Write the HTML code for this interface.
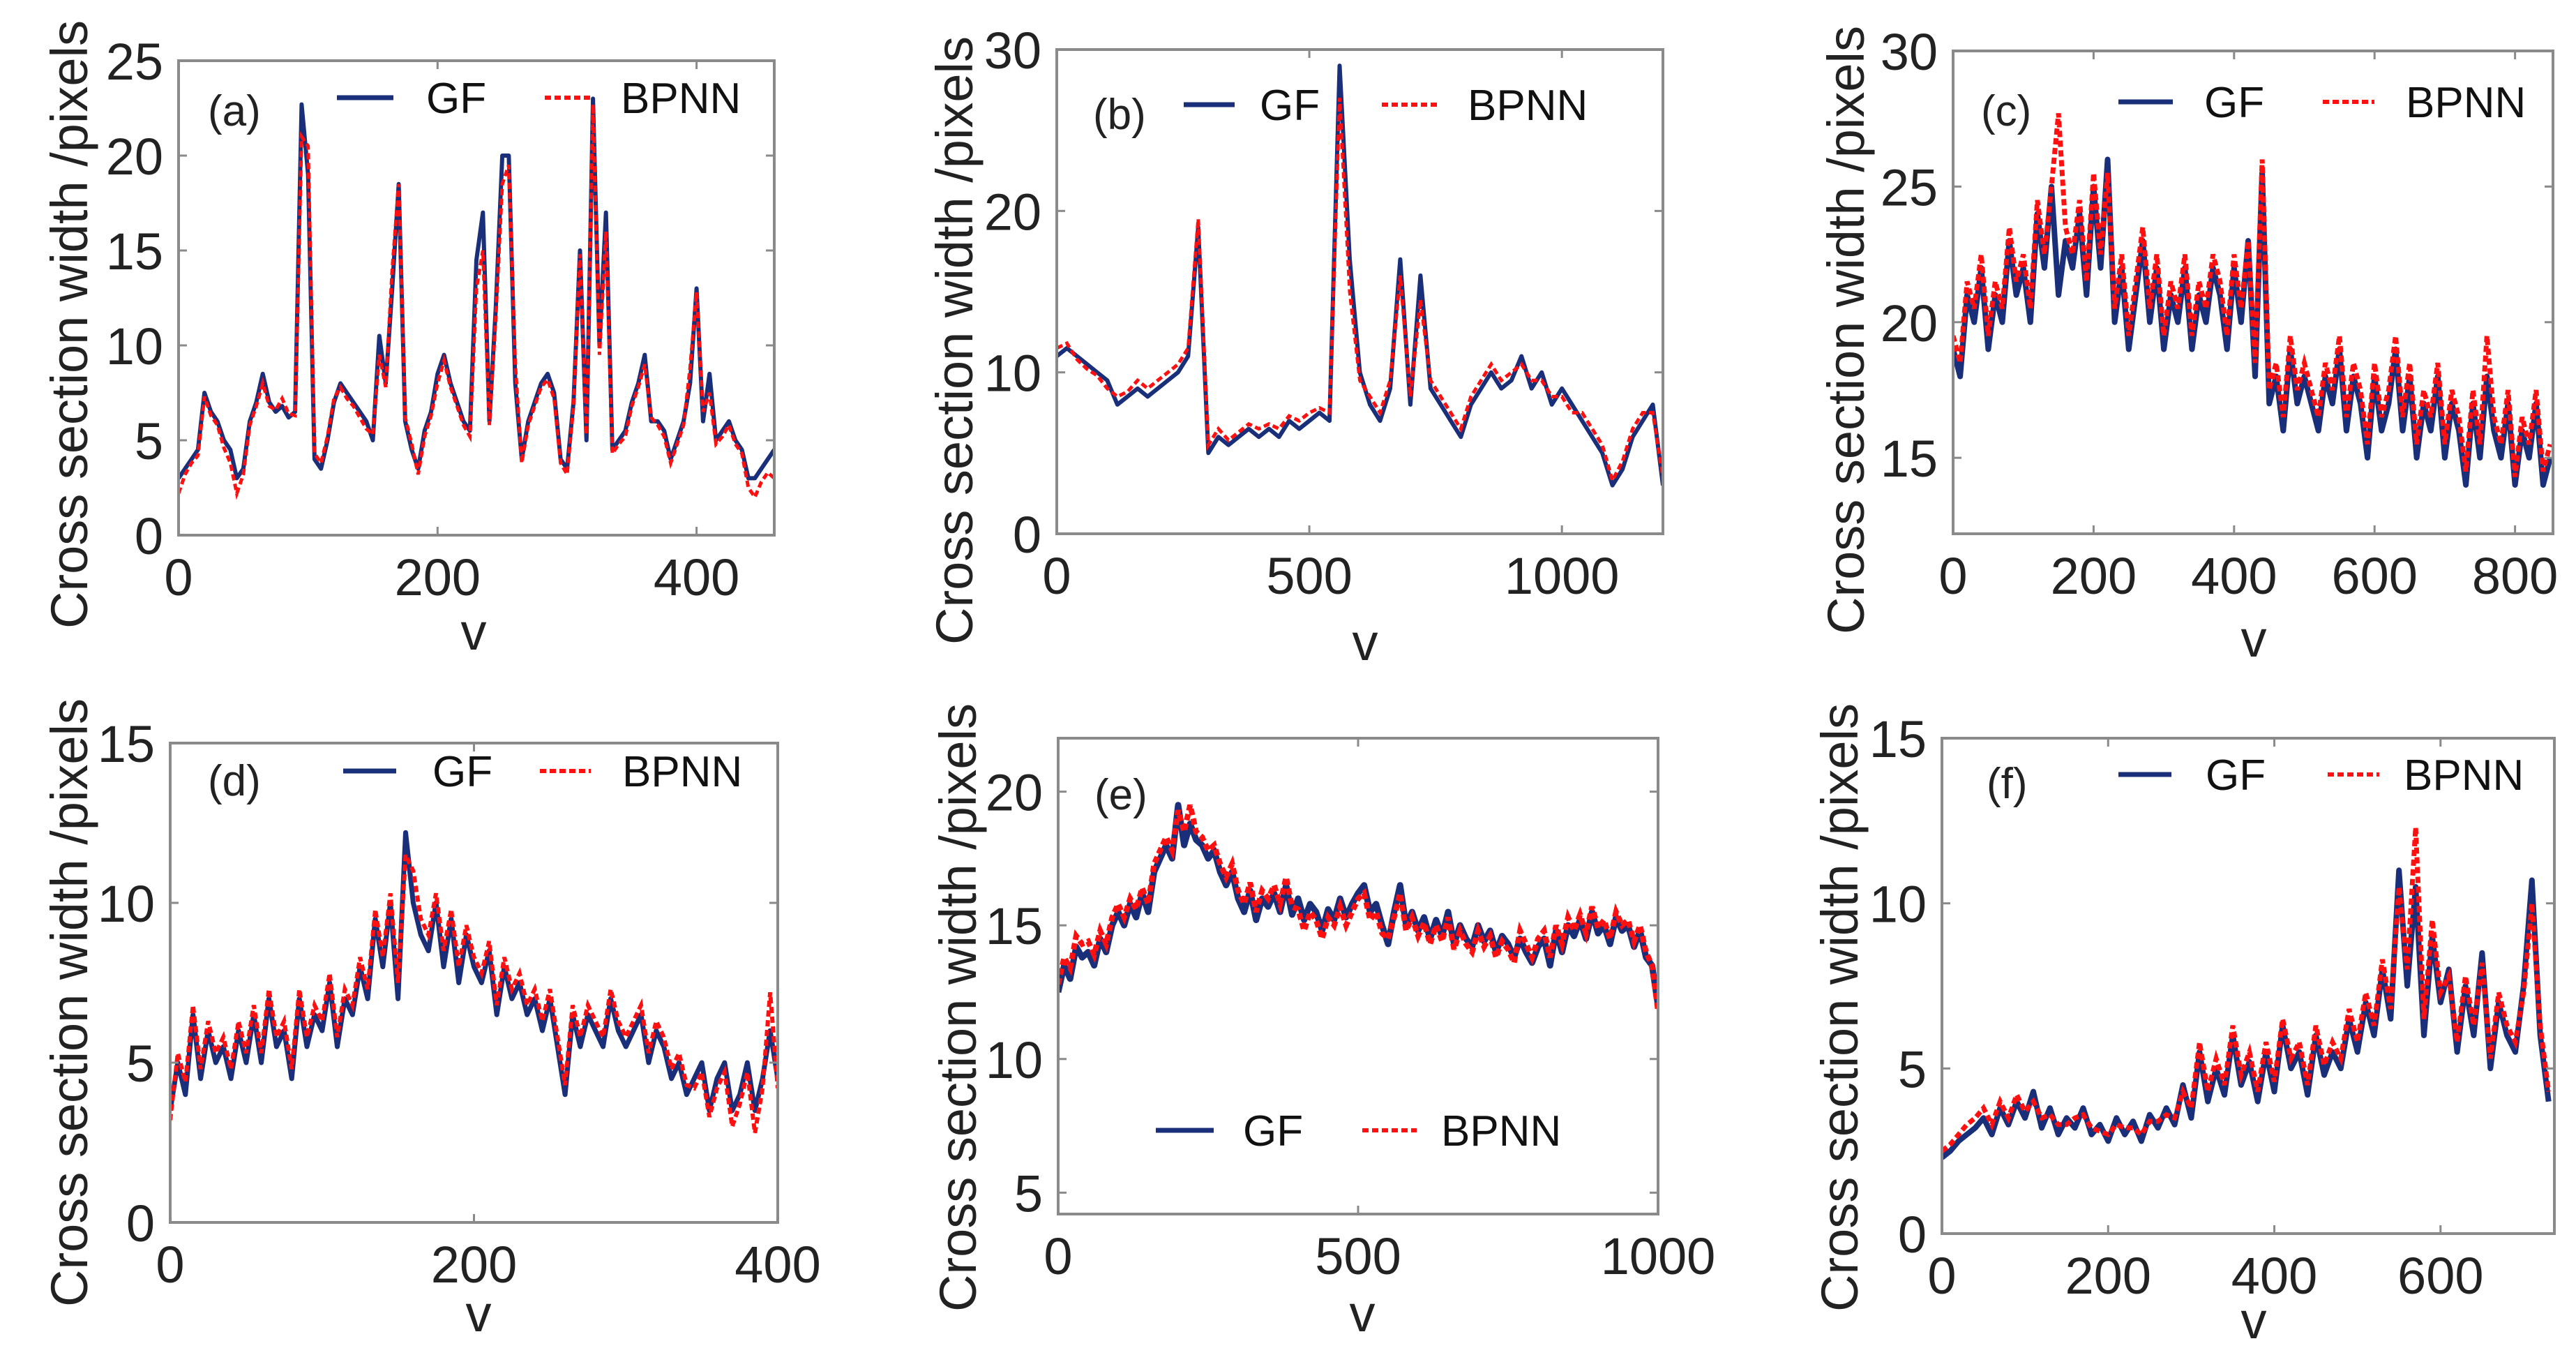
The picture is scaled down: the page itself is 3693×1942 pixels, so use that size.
<!DOCTYPE html>
<html><head><meta charset="utf-8">
<style>
html,body{margin:0;padding:0;background:#fff;}
svg{display:block;font-family:"Liberation Sans",Arial,sans-serif;}
</style></head>
<body>
<svg id="fig" width="3693" height="1942" viewBox="0 0 3693 1942" xmlns="http://www.w3.org/2000/svg"></svg>
<script>
// ---- data ----
const aGF=[3,3.5,4,4.5,7.5,6.5,6,5,4.5,3,3.5,6,7,8.5,7,6.5,6.8,6.2,6.5,22.7,19,4,3.5,5,7,8,7.5,7,6.5,6,5,10.5,8,13,18.5,6,4.5,3.5,5.5,6.5,8.5,9.5,8,7,6,5.5,14.5,17,6,12,20,20,8,4,6,7,8,8.5,7.5,4,3.5,7,15,5,23,10,17,4.5,5,5.5,7,8,9.5,6,6,5.5,4,5,6,8,13,6,8.5,5,5.5,6,5,4.5,3,3,3.5,4,4.5];
const aBP=[2.2,3.2,3.8,4.2,7.3,6.3,5.8,4.6,3.8,2.2,3.2,5.8,6.8,8,6.8,6.6,7.2,6.4,6.3,21,20.5,4.3,3.8,5.2,7.2,7.8,7.2,6.8,6.2,5.6,5.3,9.5,7.8,14,18.5,6.2,4.8,3.2,5.2,6.3,8,9.2,7.8,6.8,5.8,5.2,13,15,5.8,11.5,18.5,19.5,9,3.8,5.8,6.8,7.8,8.2,7.2,3.8,3.2,6.8,14.8,5.3,22.7,9.5,16,4.3,4.8,5.2,6.8,7.8,9,6.2,5.8,5.2,3.8,4.8,5.8,8.8,12.8,6.5,7.5,4.8,5.2,5.8,4.8,4.3,2.5,2,2.8,3.3,3];
const bGF=[11,11.5,11,10.5,10,9.5,8,8.5,9,8.5,9,9.5,10,11,19,5,6,5.5,6,6.5,6,6.5,6,7,6.5,7,7.5,7,29,17,10,8,7,9,17,8,16,9,8,7,6,8,9,10,9,9.5,11,9,10,8,9,8,7,6,5,3,4,6,7,8,3];
const bBP=[11.5,11.8,10.8,10.2,9.8,9,8.5,8.8,9.5,9,9.5,10,10.5,11.5,19.5,5.5,6.5,5.8,6.3,6.8,6.5,6.8,6.5,7.3,7,7.5,7.8,7.5,27,15,9.5,8.5,7.5,9.5,16,8.5,14.5,9.5,8.5,7.5,6.5,8.5,9.5,10.5,9.5,10,10.5,9.5,9.5,8.5,8.5,7.5,7.5,6.5,5.5,3.3,4.5,6.5,7.5,7.5,3.5];
const cGF=[19,18,21,20,22,19,21,20,23,21,22,20,24,22,25,21,23,22,24,21,25,22,26,20,22,19,21,23,20,22,19,21,20,22,19,21,20,22,21,19,22,20,23,18,25.5,17,18,16,19,17,18,17,16,18,17,19,16,18,17,15,18,16,17,19,16,18,15,17,16,18,15,17,16,14,17,15,18,16,15,17,14,16,15,17,14,15];
const cBP=[19.5,18.5,21.5,20.5,22.5,19.5,21.5,20.5,23.5,21.5,22.5,20.5,24.5,22.5,25,27.7,23.5,22.5,24.5,21.5,25.5,22.5,25.5,20.5,22.5,19.5,21.5,23.5,20.5,22.5,19.5,21.5,20.5,22.5,19.5,21.5,20.5,22.5,21.5,19.5,22.5,20.5,23,18.5,26,17.5,18.5,16.5,19.5,17.5,18.5,17.5,16.5,18.5,17.5,19.5,16.5,18.5,17.5,15.5,18.5,16.5,17.5,19.5,16.5,18.5,15.5,17.5,16.5,18.5,15.5,17.5,16.5,14.5,17.5,15.5,19.5,16.5,15.5,17.5,14.3,16.5,15.5,17.5,14.5,15.5];
const dGF=[3.5,5,4,6.5,4.5,6,5,5.5,4.5,6,5,6.5,5,7,5.5,6,4.5,7,5.5,6.5,6,7.5,5.5,7,6.5,8,7,9.5,8,10,7,12.2,10,9,8.5,10,8,9.5,7.5,9,8,7.5,8.5,6.5,8,7,7.5,6.5,7,6,7,5.5,4,6.5,5.5,6.5,6,5.5,7,6,5.5,6,6.5,5,6,5.5,4.5,5,4,4.5,5,3.5,4.5,5,3.5,4,5,3.5,4.5,6,4.5];
const dBP=[3.2,5.3,4.4,6.8,4.8,6.3,5.3,5.8,4.8,6.3,5.3,6.8,5.3,7.3,5.8,6.3,4.8,7.3,5.8,6.8,6.3,7.8,5.8,7.3,6.8,8.3,7.3,9.8,8.3,10.3,7.5,11.5,11,9.5,9,10.3,8.5,9.8,8,9.3,8.3,7.8,8.8,6.8,8.3,7.3,7.8,6.8,7.3,6.3,7.3,5.8,4.3,6.8,5.8,6.8,6.3,5.8,7.3,6.3,5.8,6.3,6.8,5.3,6.3,5.8,4.8,5.3,4.3,4.2,4.7,3.3,4.2,4.7,3,3.7,4.7,2.8,4.2,7.2,4.2];
const eGF=[12.5,13.5,13,14.2,13.8,14,13.5,14.5,14,15,15.5,15,15.8,15.3,16.2,15.5,17,17.5,18,17.5,19.5,18,18.8,18.2,18,17.5,17.8,17,16.5,17,16,15.5,16.3,15.2,16,15.7,16.2,15.5,16.5,15.4,16,15.2,15.8,15.5,14.8,15.6,15.2,16,15.3,15.8,16.2,16.5,15.5,15.8,15,14.3,15.5,16.5,15,15.5,14.8,15.3,14.5,15.2,14.6,15.5,14.3,15,14.5,14.2,15,14.4,14.8,14,14.6,14.3,13.8,14.5,14,13.6,14.2,14.5,13.5,14.8,14,15,14.6,15.2,14.5,15.5,14.7,15,14.3,15.3,14.8,15,14.2,14.8,13.8,13.5,12];
const eBP=[12.8,13.8,13.4,14.6,14.3,14.4,13.9,14.8,14.3,15.3,15.8,15.3,16,15.6,16.4,15.8,17.3,17.8,18.3,17.8,19.3,18.5,19.5,18.5,18.3,17.8,18,17.3,16.8,17.3,16.3,15.8,16.6,15.5,16.3,16,16.5,15.8,16.8,15.7,15.6,14.8,15.5,15.2,14.5,15.3,15,15.7,15,15.5,16,16.2,15.2,15.5,14.7,14.5,15.3,16.2,14.8,15.3,14.6,15.1,14.3,15,14.4,15.3,14.1,14.8,14.3,14,14.8,14.2,14.6,13.8,14.4,14.1,13.6,14.8,14.3,13.8,14.5,14.8,13.8,15,14.3,15.3,14.8,15.4,14.7,15.7,14.9,15.2,14.5,15.5,15,15.2,14.4,15,14,13.5,11.8];
const fGF=[2.3,2.5,2.8,3,3.2,3.5,3,3.8,3.3,4,3.5,4.3,3.2,3.8,3,3.5,3.2,3.8,3,3.3,2.8,3.5,3,3.4,2.8,3.6,3.2,3.8,3.3,4.5,3.5,5.5,4,5,4.2,6,4.5,5.2,4,5.5,4.3,6.3,5,5.5,4.2,6,4.8,5.5,5,6.5,5.5,7,6,8,6.5,11,7.5,10.5,6,9,7,8,5.5,7.5,6,8.5,5,7,6,5.5,7.5,10.7,6,4];
const fBP=[2.5,2.7,3,3.3,3.5,3.8,3.3,4,3.5,4.2,3.7,4,3.5,3.6,3.3,3.3,3.5,3.6,3.2,3.1,3,3.3,3.2,3.2,3,3.4,3.4,3.6,3.5,4.3,3.8,5.8,4.3,5.3,4.5,6.3,4.8,5.5,4.3,5.8,4.6,6.5,5.3,5.8,4.5,6.3,5.1,5.8,5.3,6.8,5.8,7.3,6.3,8.3,6.8,10.5,8,12.3,6.5,9.5,7.3,7.8,5.8,7.8,6.3,8.2,5.3,7.3,6.3,5.8,7.3,10,6.3,4.3];

const aTicksX=[0,200,400], aTicksY=[0,5,10,15,20,25];
const bTicksX=[0,500,1000], bTicksY=[0,10,20,30];
const cTicksX=[0,200,400,600,800], cTicksY=[15,20,25,30];
const dTicksX=[0,200,400], dTicksY=[0,5,10,15];
const eTicksX=[0,500,1000], eTicksY=[5,10,15,20];
const fTicksX=[0,200,400,600], fTicksY=[0,5,10,15];

// ---- layout ----
const panels=[
 {id:'a',gf:aGF,bp:aBP,dx:5,xmin:0,xmax:460,ymin:0,ymax:25,tx:aTicksX,ty:aTicksY,L:256,R:1110,T:87,B:767,
  yl:[99,465],xl:[679,905],tag:[298,160],leg:[[483,564],611,[781,847],890,140],lw:6},
 {id:'b',gf:bGF,bp:bBP,dx:20,xmin:0,xmax:1200,ymin:0,ymax:30,tx:bTicksX,ty:bTicksY,L:1515,R:2384,T:71,B:765,
  yl:[1368,488],xl:[1957,920],tag:[1567,165],leg:[[1697,1770],1806,[1981,2064],2104,150],lw:6},
 {id:'c',gf:cGF,bp:cBP,dx:10,xmin:0,xmax:854,ymin:12.2,ymax:30,tx:cTicksX,ty:cTicksY,L:2800,R:3660,T:73,B:765,
  yl:[2646,473],xl:[3231,915],tag:[2840,160],leg:[[3037,3115],3160,[3330,3404],3449,146],lw:8},
 {id:'d',gf:dGF,bp:dBP,dx:5,xmin:0,xmax:400,ymin:0,ymax:15,tx:dTicksX,ty:dTicksY,L:244,R:1115,T:1065,B:1752,
  yl:[99,1437],xl:[686,1882],tag:[298,1120],leg:[[492,568],620,[774,847],892,1105],lw:7},
 {id:'e',gf:eGF,bp:eBP,dx:10,xmin:0,xmax:1000,ymin:4.2,ymax:22,tx:eTicksX,ty:eTicksY,L:1517,R:2377,T:1058,B:1740,
  yl:[1373,1444],xl:[1953,1882],tag:[1569,1140],leg:[[1657,1740],1782,[1953,2031],2066,1620],lw:9},
 {id:'f',gf:fGF,bp:fBP,dx:10,xmin:0,xmax:737,ymin:0,ymax:15,tx:fTicksX,ty:fTicksY,L:2784,R:3662,T:1058,B:1768,
  yl:[2637,1444],xl:[3231,1892],tag:[2848,1124],leg:[[3037,3113],3162,[3337,3411],3446,1110],lw:8}
];
const NS='http://www.w3.org/2000/svg';
const svg=document.getElementById('fig');
function mk(tag,attrs,parent){const e=document.createElementNS(NS,tag);for(const k in attrs)e.setAttribute(k,attrs[k]);(parent||svg).appendChild(e);return e;}
const GFC='#1a2f7a', BPC='#ff1010', AX='#8a8a8a', TX='#222';
panels.forEach(p=>{
  const g=mk('g',{});
  
  
  const sx=v=>p.L+(v-p.xmin)/(p.xmax-p.xmin)*(p.R-p.L);
  const sy=v=>p.B-(v-p.ymin)/(p.ymax-p.ymin)*(p.B-p.T);
  const clip=mk('clipPath',{id:'clip'+p.id},g);
  mk('rect',{x:p.L,y:p.T,width:p.R-p.L,height:p.B-p.T},clip);
  const path=(arr)=>arr.map((v,i)=>(i?'L':'M')+sx(i*p.dx).toFixed(1)+','+sy(v).toFixed(1)).join('');
  const gl=mk('path',{d:path(p.gf),fill:'none',stroke:GFC,'stroke-width':p.lw,'stroke-linejoin':'round','clip-path':'url(#clip'+p.id+')'},g);
  
  
  const bl=mk('path',{d:path(p.bp),fill:'none',stroke:BPC,'stroke-width':p.lw-1,'stroke-dasharray':'9,5','clip-path':'url(#clip'+p.id+')'},g);
  
  
  const box=mk('rect',{x:p.L,y:p.T,width:p.R-p.L,height:p.B-p.T,fill:'none',stroke:AX,'stroke-width':4},g);
  
  
  p.tx.forEach(t=>{
    const x=sx(t);
    mk('line',{x1:x,y1:p.B,x2:x,y2:p.B-12,stroke:AX,'stroke-width':3},g);
    mk('line',{x1:x,y1:p.T,x2:x,y2:p.T+12,stroke:AX,'stroke-width':3},g);
    const tl=mk('text',{x:x,y:p.B+86,'text-anchor':'middle','font-size':74,fill:TX},g);
    tl.textContent=t;
    
    
  });
  p.ty.forEach(t=>{
    const y=sy(t);
    mk('line',{x1:p.L,y1:y,x2:p.L+12,y2:y,stroke:AX,'stroke-width':3},g);
    mk('line',{x1:p.R,y1:y,x2:p.R-12,y2:y,stroke:AX,'stroke-width':3},g);
    const tl=mk('text',{x:p.L-22,y:y+27,'text-anchor':'end','font-size':74,fill:TX},g);
    tl.textContent=t;
    
    
  });
  const yt=mk('text',{x:0,y:0,'text-anchor':'middle','font-size':74,fill:TX,transform:'translate('+(p.yl[0]+26)+','+p.yl[1]+') rotate(-90)'},g);
  yt.textContent='Cross section width /pixels';
  
  
  const xt=mk('text',{x:p.xl[0],y:p.xl[1]+26,'text-anchor':'middle','font-size':74,fill:TX},g);
  xt.textContent='v';
  
  
  const tg=mk('text',{x:p.tag[0],y:p.tag[1]+20,'font-size':62,fill:TX},g);
  tg.textContent='('+p.id+')';
  
  
  const ly=p.leg[4];
  const l1=mk('line',{x1:p.leg[0][0],y1:ly,x2:p.leg[0][1],y2:ly,stroke:GFC,'stroke-width':7},g);
  
  
  const t1=mk('text',{x:p.leg[1],y:ly+22,'font-size':62,fill:'#111'},g);
  t1.textContent='GF';
  
  
  const l2=mk('line',{x1:p.leg[2][0],y1:ly,x2:p.leg[2][1],y2:ly,stroke:BPC,'stroke-width':6,'stroke-dasharray':'9,5'},g);
  
  
  const t2=mk('text',{x:p.leg[3],y:ly+22,'font-size':62,fill:'#111'},g);
  t2.textContent='BPNN';
  
  
});
</script>
</body></html>
